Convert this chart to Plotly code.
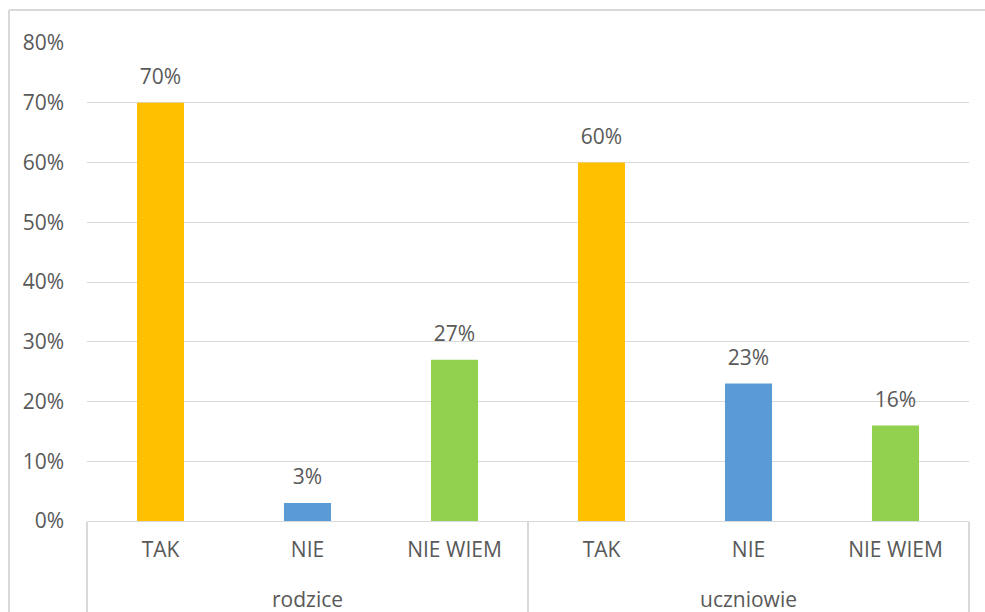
import plotly.graph_objects as go

groups = ["rodzice", "uczniowie"]
answers = ["TAK", "NIE", "NIE WIEM", "TAK", "NIE", "NIE WIEM"]
values = [0.70, 0.03, 0.27, 0.60, 0.23, 0.16]
colors = ["#FFC000", "#5B9BD5", "#92D050", "#FFC000", "#5B9BD5", "#92D050"]
y_ticks = [0, 0.1, 0.2, 0.3, 0.4, 0.5, 0.6, 0.7, 0.8]

n_per_group = len(answers) // len(groups)
xpos = list(range(len(answers)))
group_centers = [g * n_per_group + (n_per_group - 1) / 2 for g in range(len(groups))]
group_edges = [g * n_per_group - 0.5 for g in range(len(groups) + 1)]
xrange = [-0.5, len(answers) - 0.5]

font_family = "Open Sans, Liberation Sans, sans-serif"
text_color = "#595959"
grid_color = "#D9D9D9"
fs = 21

fig = go.Figure()
fig.add_trace(go.Bar(
    x=xpos, y=values,
    marker=dict(color=colors, line=dict(width=0)),
    width=0.32, hoverinfo="skip",
))
fig.add_trace(go.Scatter(
    x=xpos, y=values, mode="markers+text",
    marker=dict(size=20, opacity=0),
    text=[f"{round(v*100)}%" for v in values],
    textposition="top center",
    textfont=dict(family=font_family, size=fs, color=text_color),
    cliponaxis=False, hoverinfo="skip",
))
# invisible traces to activate the extra axes
fig.add_trace(go.Scatter(x=[group_centers[0]], y=[0], xaxis="x2", mode="markers",
                         marker=dict(opacity=0), hoverinfo="skip"))
fig.add_trace(go.Scatter(x=[group_edges[0]], y=[0], xaxis="x3", mode="markers",
                         marker=dict(opacity=0), hoverinfo="skip"))

W, H = 985, 612
ml, mr, mt, mb = 87, 16, 43, 0
pw, ph = W - ml - mr, H - mt - mb
plot_bottom = 521  # px of y=0
ydom0 = (H - plot_bottom) / ph

border_x = (9 - ml) / pw
border_y = (H - 10) / ph

fig.update_layout(
    width=W, height=H,
    margin=dict(l=ml, r=mr, t=mt, b=mb, pad=0, autoexpand=False),
    paper_bgcolor="white", plot_bgcolor="white",
    showlegend=False,
    font=dict(family=font_family, size=fs, color=text_color),
    xaxis=dict(
        automargin=False,
        range=xrange, tickvals=xpos, ticktext=answers,
        showline=True, linecolor=grid_color, linewidth=1,
        ticks="", showgrid=False, zeroline=False,
        tickfont=dict(size=fs, color=text_color),
        ticklabelstandoff=10,
    ),
    xaxis2=dict(
        automargin=False,
        overlaying="x", anchor="free", position=(H - 585) / ph,
        range=xrange, tickvals=group_centers, ticktext=groups,
        showline=False, ticks="", showgrid=False, zeroline=False,
        tickfont=dict(size=fs, color=text_color),
    ),
    xaxis3=dict(
        automargin=False,
        overlaying="x", anchor="y", side="bottom",
        range=xrange, tickvals=group_edges, showticklabels=False,
        ticks="outside", ticklen=110, tickwidth=2, tickcolor=grid_color,
        showline=False, showgrid=False, zeroline=False,
    ),
    yaxis=dict(
        automargin=False,
        domain=[ydom0, 1],
        range=[0, 0.8],
        tickvals=y_ticks,
        tickformat=".0%",
        showgrid=True, gridcolor=grid_color, gridwidth=1,
        zeroline=False, showline=False,
        ticks="", ticklen=0,
        tickfont=dict(size=fs, color=text_color),
        ticklabelstandoff=22,
    ),
    shapes=[
        dict(type="line", xref="paper", yref="paper",
             x0=border_x, x1=1.2, y0=border_y, y1=border_y,
             line=dict(color=grid_color, width=2), layer="below"),
        dict(type="line", xref="paper", yref="paper",
             x0=border_x, x1=border_x, y0=-0.2, y1=border_y,
             line=dict(color=grid_color, width=2), layer="below"),
    ],
)

fig.write_html(
    "out.html",
    config={"displayModeBar": False},
    post_script="document.body.style.margin='0';document.body.style.overflow='hidden';",
)
